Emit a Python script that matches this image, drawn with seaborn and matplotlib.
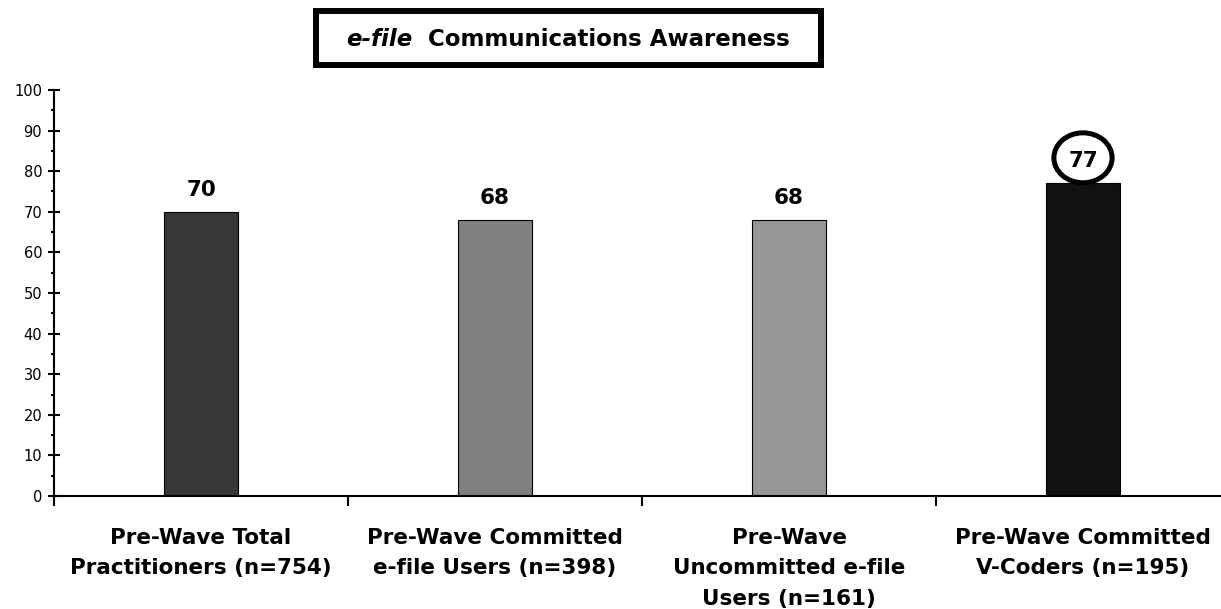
import matplotlib
matplotlib.use("Agg")
import matplotlib.pyplot as plt
import numpy as np
import pandas as pd
import seaborn as sns
from matplotlib.patches import Ellipse, Rectangle

categories = [
    "Pre-Wave Total\nPractitioners (n=754)",
    "Pre-Wave Committed\ne-file Users (n=398)",
    "Pre-Wave\nUncommitted e-file\nUsers (n=161)",
    "Pre-Wave Committed\nV-Coders (n=195)",
]
values = [70, 68, 68, 77]
bar_colors = ["#383838", "#808080", "#969696", "#111111"]
highlight = 3  # circled value

W, H = 1221, 609

sns.set_theme(style="white")
plt.rcParams["font.family"] = ["DejaVu Sans"]
plt.rcParams["text.color"] = "black"
plt.rcParams["xtick.color"] = "black"
plt.rcParams["ytick.color"] = "black"

df = pd.DataFrame({"group": categories, "pct": values})

fig = plt.figure(figsize=(W / 100, H / 100), dpi=100)
ax = fig.add_axes([54 / W, 1 - 496 / H, 1167 / W, 406 / H])

sns.barplot(data=df, x="group", y="pct", hue="group", palette=bar_colors,
            legend=False, width=0.252, edgecolor="black", linewidth=0.8,
            saturation=1, ax=ax)

ax.set_ylim(0, 100)
ax.set_xlim(-0.5, -0.5 + 1167 / 294)
ax.set_xlabel("")
ax.set_ylabel("")

# y ticks
ax.set_yticks(np.arange(0, 101, 10))
ax.set_yticks(np.arange(5, 100, 10), minor=True)
ax.tick_params(axis="y", which="major", direction="inout", length=9, width=1.5,
               labelsize=10.5, pad=4, left=True)
ax.tick_params(axis="y", which="minor", direction="out", length=2.5, width=1.5, left=True)

# x: labels under the bars, tick marks at category boundaries
ax.set_xticks(range(len(categories)))
ax.set_xticklabels(categories, fontsize=15.5, fontweight="bold", linespacing=1.65)
ax.tick_params(axis="x", which="major", length=0, pad=23)
ax.set_xticks([-0.5, 0.5, 1.5, 2.5], minor=True)
ax.tick_params(axis="x", which="minor", direction="out", length=7, width=1.5, bottom=True)

for side in ["top", "right"]:
    ax.spines[side].set_visible(False)
for side in ["left", "bottom"]:
    ax.spines[side].set_color("black")
    ax.spines[side].set_linewidth(1.5)

# value labels
for i, v in enumerate(values):
    ax.annotate(str(v), (i, v), xytext=(0, 11.5), textcoords="offset points",
                ha="center", va="baseline", fontsize=15.5, fontweight="bold")

# circle around the highlighted value
ax.add_patch(Ellipse((highlight, 83.3), 0.198, 12.3,
                     fill=False, edgecolor="black", linewidth=3.6, clip_on=False))

# boxed title, "e-file" in italics
yc = 1 - 39 / H
t1 = fig.text(0, yc, "e-file", fontsize=16.5, fontweight="bold", style="italic",
              ha="left", va="center")
t2 = fig.text(0, yc, "  Communications Awareness", fontsize=16.5, fontweight="bold",
              ha="left", va="center")
fig.canvas.draw()
r = fig.canvas.get_renderer()
w1 = t1.get_window_extent(r).width
w2 = t2.get_window_extent(r).width
x0 = 568 - (w1 + w2) / 2
t1.set_position((x0 / W, yc))
t2.set_position(((x0 + w1) / W, yc))
box = Rectangle((316 / W, 1 - 65 / H), (821 - 316) / W, (65 - 11) / H,
                transform=fig.transFigure, fill=False, edgecolor="black", linewidth=4.3)
fig.patches.append(box)

fig.savefig("out.png", dpi=100)
